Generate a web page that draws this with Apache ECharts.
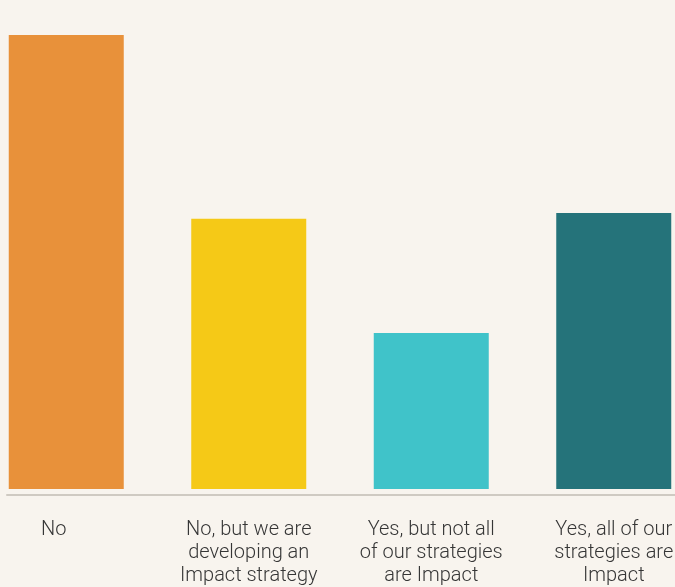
<!DOCTYPE html>
<html>
<head>
<meta charset="utf-8">
<script src="https://cdn.jsdelivr.net/npm/echarts@6/dist/echarts.min.js"></script>
<style>
html,body{margin:0;padding:0;background:#f8f4ee;overflow:hidden;width:675px;height:587px;}
#chart{width:730px;height:587px;margin-left:-25px;}
</style>
</head>
<body>
<div id="chart"></div>
<script>
var categories = [
  "No",
  "No, but we are\ndeveloping an\nImpact strategy",
  "Yes, but not all\nof our strategies\nare Impact",
  "Yes, all of our\nstrategies are\nImpact"
];
var values = [39.3, 23.4, 13.5, 23.9];
var palette = ["#E8913A", "#F5C917", "#40C3C9", "#25737A"];

var chart = echarts.init(document.getElementById('chart'));
chart.setOption({
  backgroundColor: '#f8f4ee',
  animation: false,
  grid: [
    {left: 0, right: 0, top: 35, bottom: 92},
    {left: 32, right: 30, top: 35, bottom: 92}
  ],
  xAxis: [
    {
      type: 'category', gridIndex: 0,
      data: categories.map(function (c, i) {
        return i === 0 ? {value: c, textStyle: {padding: [0, 25, 0, 0]}} : c;
      }),
      axisLine: {show: false}, axisTick: {show: false},
      axisLabel: {
        interval: 0, margin: 29, fontSize: 20, lineHeight: 23,
        color: '#363636', fontFamily: 'Roboto, Liberation Sans, sans-serif', fontWeight: 300
      }
    },
    {
      type: 'value', gridIndex: 1, min: 0, max: 1,
      axisLine: {show: true, lineStyle: {color: '#cfcac2', width: 2}},
      axisTick: {show: false}, axisLabel: {show: false}, splitLine: {show: false}
    }
  ],
  yAxis: [
    {type: 'value', gridIndex: 0, min: 0, max: 39.3, show: false},
    {type: 'value', gridIndex: 1, show: false}
  ],
  series: [{
    type: 'bar', xAxisIndex: 0, yAxisIndex: 0,
    barWidth: 115, z: 3,
    data: values.map(function (v, i) {
      return {value: v, itemStyle: {color: palette[i]}};
    })
  }]
});
</script>
</body>
</html>
